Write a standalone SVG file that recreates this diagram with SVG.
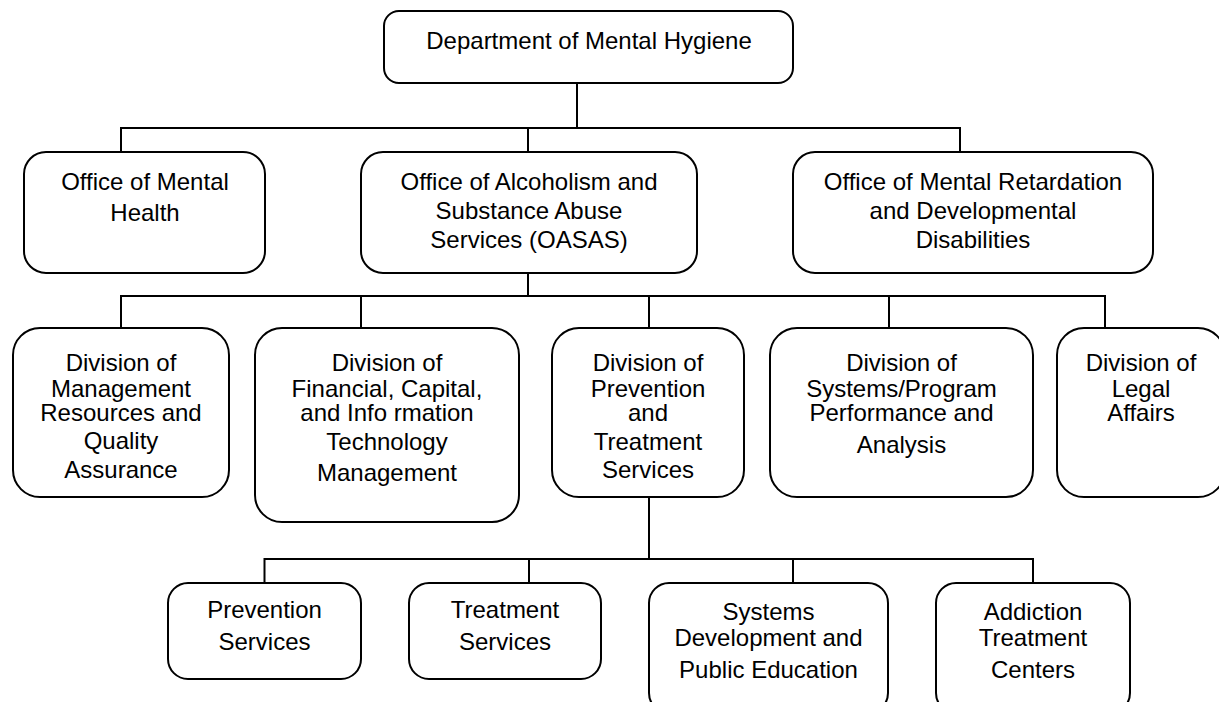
<svg xmlns="http://www.w3.org/2000/svg" width="1219" height="702" viewBox="0 0 1219 702">
<style>
.box{fill:#fff;stroke:#000;stroke-width:2}
.t{font-family:"Liberation Sans",Arial,sans-serif;font-size:24px;fill:#000;text-anchor:middle}
.c{fill:none;stroke:#000;stroke-width:2}
</style>
<rect width="1219" height="702" fill="#fff"/>
<g id="connectors">
<path class="c" d="M577,83 V128 M121,152 V128 H960 V152 M528,128 V152"/>
<path class="c" d="M528,273 V296 M121,328 V296 H1105 V328 M361,296 V328 M649,296 V328 M889,296 V328"/>
<path class="c" d="M649,497 V560 M264.5,583 V559 H1033 V583 M529,559 V583 M793,559 V583"/>
</g>
<g id="n-dmh">
<rect class="box" x="384" y="11" width="409" height="72" rx="15"/>
<text class="t" x="589" y="49">Department of Mental Hygiene</text>
</g>
<g id="n-omh">
<rect class="box" x="24" y="152" width="241" height="121" rx="22"/>
<text class="t" x="145" y="190">Office of Mental</text>
<text class="t" x="145" y="221">Health</text>
</g>
<g id="n-oasas">
<rect class="box" x="361" y="152" width="336" height="121" rx="22"/>
<text class="t" x="529" y="190">Office of Alcoholism and</text>
<text class="t" x="529" y="219">Substance Abuse</text>
<text class="t" x="529" y="248">Services (OASAS)</text>
</g>
<g id="n-omrdd">
<rect class="box" x="793" y="152" width="360" height="121" rx="22"/>
<text class="t" x="973" y="190">Office of Mental Retardation</text>
<text class="t" x="973" y="219">and Developmental</text>
<text class="t" x="973" y="248">Disabilities</text>
</g>
<g id="n-mgmt">
<rect class="box" x="13" y="328" width="216" height="169" rx="27"/>
<text class="t" x="121" y="371">Division of</text>
<text class="t" x="121" y="397">Management</text>
<text class="t" x="121" y="421">Resources and</text>
<text class="t" x="121" y="449">Quality</text>
<text class="t" x="121" y="478">Assurance</text>
</g>
<g id="n-fin">
<rect class="box" x="255" y="328" width="264" height="194" rx="27"/>
<text class="t" x="387" y="371">Division of</text>
<text class="t" x="387" y="397">Financial, Capital,</text>
<text class="t" x="387" y="421">and Info rmation</text>
<text class="t" x="387" y="450">Technology</text>
<text class="t" x="387" y="481">Management</text>
</g>
<g id="n-prev">
<rect class="box" x="552" y="328" width="192" height="169" rx="27"/>
<text class="t" x="648" y="371">Division of</text>
<text class="t" x="648" y="397">Prevention</text>
<text class="t" x="648" y="421">and</text>
<text class="t" x="648" y="450">Treatment</text>
<text class="t" x="648" y="478">Services</text>
</g>
<g id="n-sys">
<rect class="box" x="770" y="328" width="263" height="169" rx="27"/>
<text class="t" x="901.5" y="371">Division of</text>
<text class="t" x="901.5" y="397">Systems/Program</text>
<text class="t" x="901.5" y="421">Performance and</text>
<text class="t" x="901.5" y="453">Analysis</text>
</g>
<g id="n-legal">
<rect class="box" x="1057" y="328" width="168" height="169" rx="27"/>
<text class="t" x="1141" y="371">Division of</text>
<text class="t" x="1141" y="397">Legal</text>
<text class="t" x="1141" y="421">Affairs</text>
</g>
<g id="n-ps">
<rect class="box" x="168" y="583" width="193" height="96" rx="20"/>
<text class="t" x="264.5" y="618">Prevention</text>
<text class="t" x="264.5" y="650">Services</text>
</g>
<g id="n-ts">
<rect class="box" x="409" y="583" width="192" height="96" rx="20"/>
<text class="t" x="505" y="618">Treatment</text>
<text class="t" x="505" y="650">Services</text>
</g>
<g id="n-sdpe">
<rect class="box" x="649" y="583" width="239" height="130" rx="20"/>
<text class="t" x="768.5" y="620">Systems</text>
<text class="t" x="768.5" y="646">Development and</text>
<text class="t" x="768.5" y="678">Public Education</text>
</g>
<g id="n-atc">
<rect class="box" x="936" y="583" width="194" height="130" rx="20"/>
<text class="t" x="1033" y="620">Addiction</text>
<text class="t" x="1033" y="646">Treatment</text>
<text class="t" x="1033" y="678">Centers</text>
</g>
</svg>
